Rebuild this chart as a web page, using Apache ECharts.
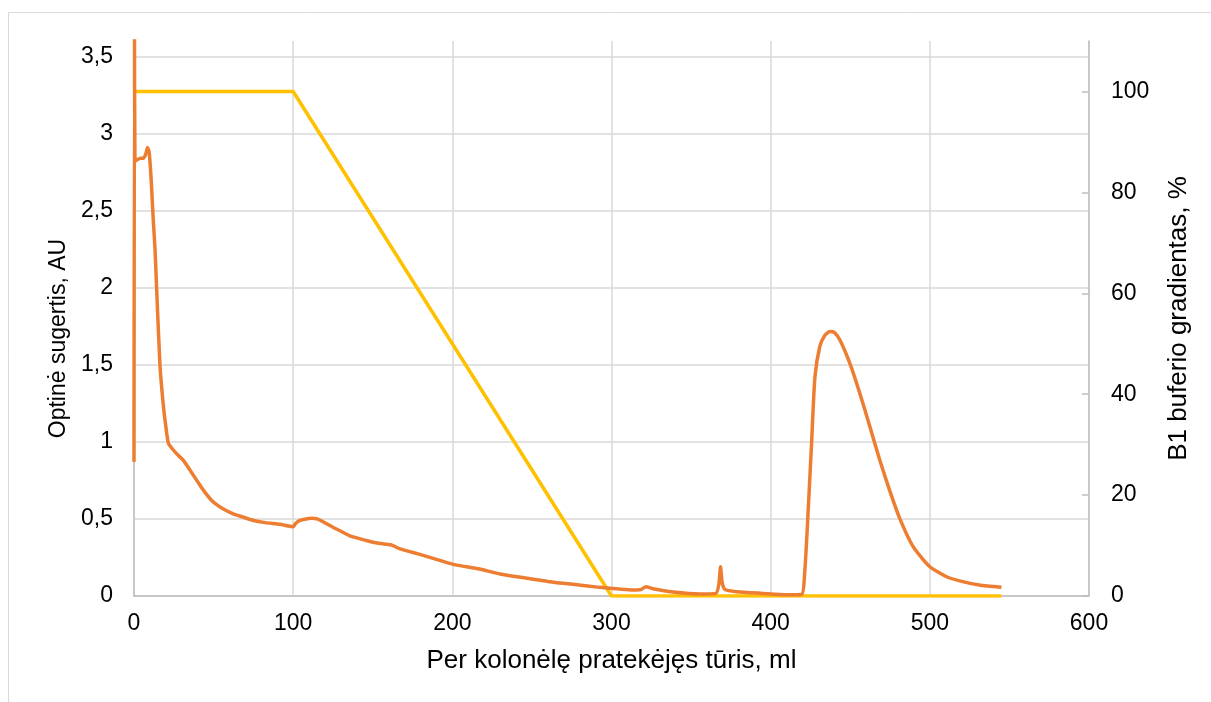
<!DOCTYPE html>
<html>
<head>
<meta charset="utf-8">
<script src="https://cdn.jsdelivr.net/npm/echarts@6/dist/echarts.min.js"></script>
<style>
  html, body { margin: 0; padding: 0; background: #fff; }
  #chart { width: 1211px; height: 702px; }
</style>
</head>
<body>
<div id="chart"></div>
<script>
// Per kolonele pratekejes turis, ml  ->  optine sugertis, AU
var volume = [0, 0.3, 0.6, 2, 4, 6, 7.5, 8.5, 9.5, 10.5, 11.2, 12.1, 13.2, 14.4, 16.3, 18.3, 20, 21.6, 23.7, 27,
    31, 35, 39.4, 44, 48.8, 53, 57, 62, 67.6, 75, 82.3, 91.7, 100, 101.5, 104.3, 108, 111.6, 115, 119, 125,
    130, 135.7, 146, 152, 158.7, 162, 166, 171, 179.6, 190, 200.6, 217, 230, 245, 261, 277, 292.7, 305, 313.6, 318,
    321.6, 326, 338.8, 355.5, 365.6, 367.5, 368.5, 369.5, 371.2, 378.6, 395, 410, 419.4, 421.5, 423.6, 425.7, 427.8, 430.9, 434, 437.2,
    440, 443.5, 449.7, 456, 462.3, 468.6, 474.9, 481.2, 489.5, 500, 510.5, 520, 531, 545];
var absorbance = [0.87, 3.8, 2.82, 2.83, 2.84, 2.84, 2.87, 2.91, 2.88, 2.75, 2.62, 2.44, 2.25, 1.95, 1.5, 1.25, 1.1, 0.99, 0.96, 0.92,
    0.88, 0.82, 0.75, 0.68, 0.62, 0.585, 0.56, 0.535, 0.515, 0.49, 0.476, 0.465, 0.45, 0.47, 0.49, 0.5, 0.504, 0.5, 0.48, 0.446,
    0.42, 0.39, 0.36, 0.345, 0.335, 0.33, 0.31, 0.294, 0.27, 0.238, 0.205, 0.175, 0.143, 0.118, 0.093, 0.074, 0.056, 0.045, 0.039, 0.04,
    0.06, 0.047, 0.026, 0.013, 0.017, 0.08, 0.19, 0.09, 0.043, 0.028, 0.017, 0.008, 0.01, 0.17, 0.56, 0.99, 1.42, 1.62, 1.69, 1.715,
    1.71, 1.66, 1.51, 1.315, 1.1, 0.88, 0.68, 0.5, 0.32, 0.19, 0.125, 0.095, 0.071, 0.056];

// B1 buferio gradientas, %
var gradVolume = [0, 100, 300, 545];
var gradPercent = [100, 100, 0, 0];

var xTicks = [0, 100, 200, 300, 400, 500, 600];
var rightTicks = [0, 20, 40, 60, 80, 100];

var zip = function (xs, ys) {
    var out = [];
    for (var i = 0; i < xs.length; i++) out.push([xs[i], ys[i]]);
    return out;
};

var comma = function (v) { return String(v).replace('.', ','); };

var font = 'Liberation Sans, Arial, sans-serif';
var txt = function (size) { return { color: '#000', fontSize: size, fontFamily: font }; };

var chart = echarts.init(document.getElementById('chart'));
chart.setOption({
    animation: false,
    backgroundColor: '#fff',
    graphic: [{
        type: 'rect', silent: true,
        shape: { x: 8.5, y: 12.5, width: 1300, height: 800 },
        style: { fill: 'none', stroke: '#d9d9d9', lineWidth: 1 }
    }],
    grid: { left: 134, right: 122, top: 41, bottom: 106 },
    xAxis: {
        type: 'value', min: 0, max: 600, interval: 100,
        name: 'Per kolonėlę pratekėjęs tūris, ml',
        nameLocation: 'middle', nameGap: 52,
        nameTextStyle: txt(26),
        axisLine: { show: true, lineStyle: { color: '#bfbfbf', width: 1.5 } },
        axisTick: { show: false },
        axisLabel: Object.assign({ margin: 16, customValues: xTicks }, txt(23)),
        splitLine: { show: true, lineStyle: { color: '#d9d9d9', width: 1.5 } }
    },
    yAxis: [{
        type: 'value', min: 0, max: 3.6, interval: 0.5,
        name: 'Optinė sugertis, AU',
        nameLocation: 'middle', nameGap: 62,
        // pushed down a bit, as in the source
        nameTextStyle: Object.assign({ padding: [0, 40, 0, 0] }, txt(23)),
        axisLine: { show: true, lineStyle: { color: '#bfbfbf', width: 1.5 } },
        axisTick: { show: false },
        axisLabel: Object.assign({ margin: 21, showMaxLabel: false, formatter: comma }, txt(23)),
        splitLine: { show: true, showMaxLine: false, lineStyle: { color: '#d9d9d9', width: 1.5 } }
    }, {
        type: 'value', min: 0, max: 110, interval: 10,
        name: 'B1 buferio gradientas, %',
        nameLocation: 'middle', nameGap: 77,
        nameTextStyle: txt(26),
        axisLine: { show: true, lineStyle: { color: '#bfbfbf', width: 1.5 } },
        axisTick: { show: true, inside: true, length: 7, customValues: rightTicks, lineStyle: { color: '#bfbfbf', width: 1.5 } },
        axisLabel: Object.assign({ margin: 22, customValues: rightTicks }, txt(23)),
        splitLine: { show: false }
    }],
    series: [{
        type: 'line',
        data: zip(volume, absorbance),
        yAxisIndex: 0,
        showSymbol: false,
        smooth: 0.2,
        clip: true,
        lineStyle: { color: '#ed7d31', width: 3.5 },
        z: 3
    }, {
        type: 'line',
        data: zip(gradVolume, gradPercent),
        yAxisIndex: 1,
        showSymbol: false,
        lineStyle: { color: '#ffc000', width: 3.5 },
        z: 2
    }]
});
</script>
</body>
</html>
